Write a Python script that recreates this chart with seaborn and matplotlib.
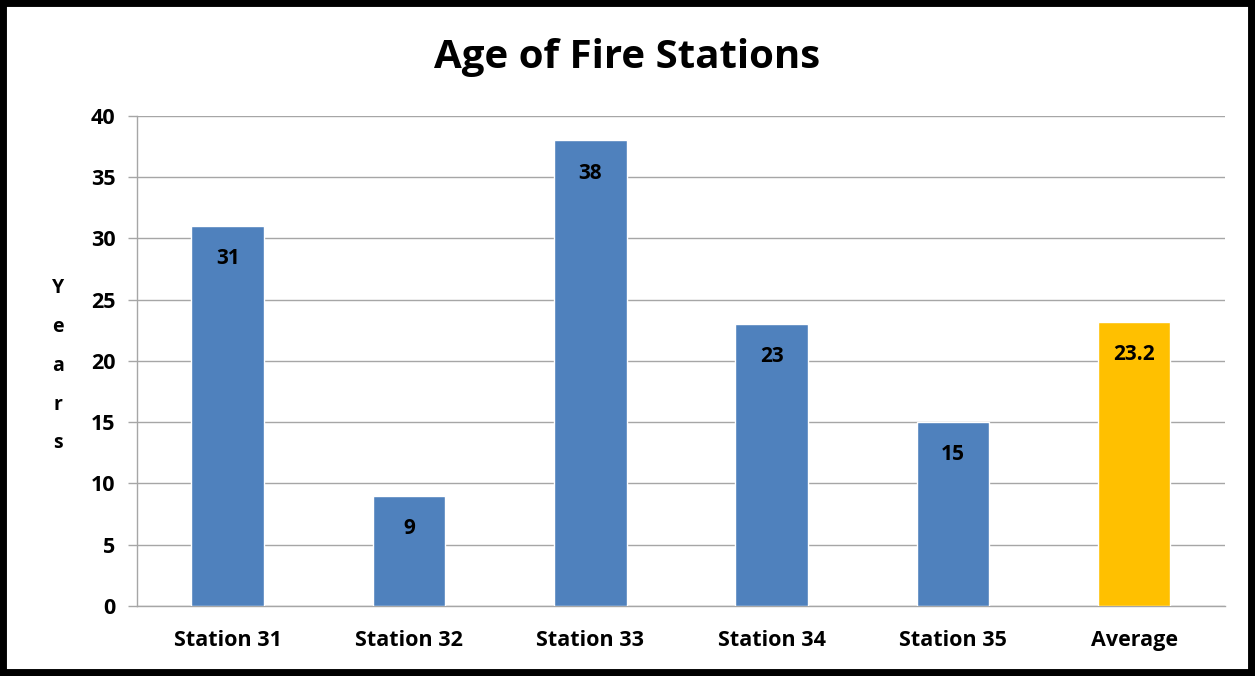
import matplotlib
matplotlib.use("Agg")
import matplotlib.pyplot as plt
from matplotlib.patches import Rectangle
import seaborn as sns

categories = ["Station 31", "Station 32", "Station 33", "Station 34", "Station 35", "Average"]
ages = [31, 9, 38, 23, 15, 23.2]
bar_colors = ["#4F81BD", "#4F81BD", "#4F81BD", "#4F81BD", "#4F81BD", "#FFC000"]
y_ticks = [0, 5, 10, 15, 20, 25, 30, 35, 40]

sns.set_style("white")
plt.rcParams["font.family"] = ["Open Sans", "DejaVu Sans"]
plt.rcParams["text.color"] = "black"
plt.rcParams["xtick.labelcolor"] = "black"
plt.rcParams["ytick.labelcolor"] = "black"
plt.rcParams["axes.labelcolor"] = "black"

fig = plt.figure(figsize=(12.55, 6.76), dpi=100)
ax = fig.add_axes([0.1092, 0.1036, 0.8668, 0.7248])

sns.barplot(x=categories, y=ages, hue=categories, palette=bar_colors,
            legend=False, width=0.4, saturation=1, ax=ax, zorder=3)

ax.set_ylim(0, 40)
ax.set_xlim(-0.5, len(categories) - 0.5)
ax.set_yticks(y_ticks)
ax.yaxis.grid(True, color="#A6A6A6", linewidth=1.0, zorder=0)
ax.set_axisbelow(True)

# category separators on the x axis
ax.set_xticks([i - 0.5 for i in range(len(categories) + 1)], minor=True)
ax.tick_params(axis="x", which="major", length=0, pad=17, labelsize=15.5)
ax.tick_params(axis="x", which="minor", length=7, width=1, color="#A6A6A6", direction="out")
ax.tick_params(axis="y", length=6.5, width=1, color="#A6A6A6", pad=9, labelsize=15.5, left=True)
for lbl in ax.get_xticklabels() + ax.get_yticklabels():
    lbl.set_fontweight("bold")

for side in ["top", "right"]:
    ax.spines[side].set_visible(False)
for side in ["left", "bottom"]:
    ax.spines[side].set_color("#A6A6A6")
    ax.spines[side].set_linewidth(1.0)

ax.set_xlabel("")
ax.set_ylabel("Y\ne\na\nr\ns", rotation=0, fontsize=14, fontweight="bold",
              linespacing=2.25, va="center", ha="center")
ax.yaxis.set_label_coords(-0.0726, 0.49)

for container in ax.containers:
    ax.bar_label(container, fmt="{:g}", padding=-31, fontsize=15,
                 fontweight="bold", color="black")

fig.text(0.5, 0.915, "Age of Fire Stations", ha="center", va="center",
         fontsize=29, fontweight="bold")

fig.patches.append(Rectangle((0, 0), 1, 1, transform=fig.transFigure,
                             fill=False, edgecolor="black", linewidth=10))

fig.savefig("out.png", dpi=100, facecolor="white")
